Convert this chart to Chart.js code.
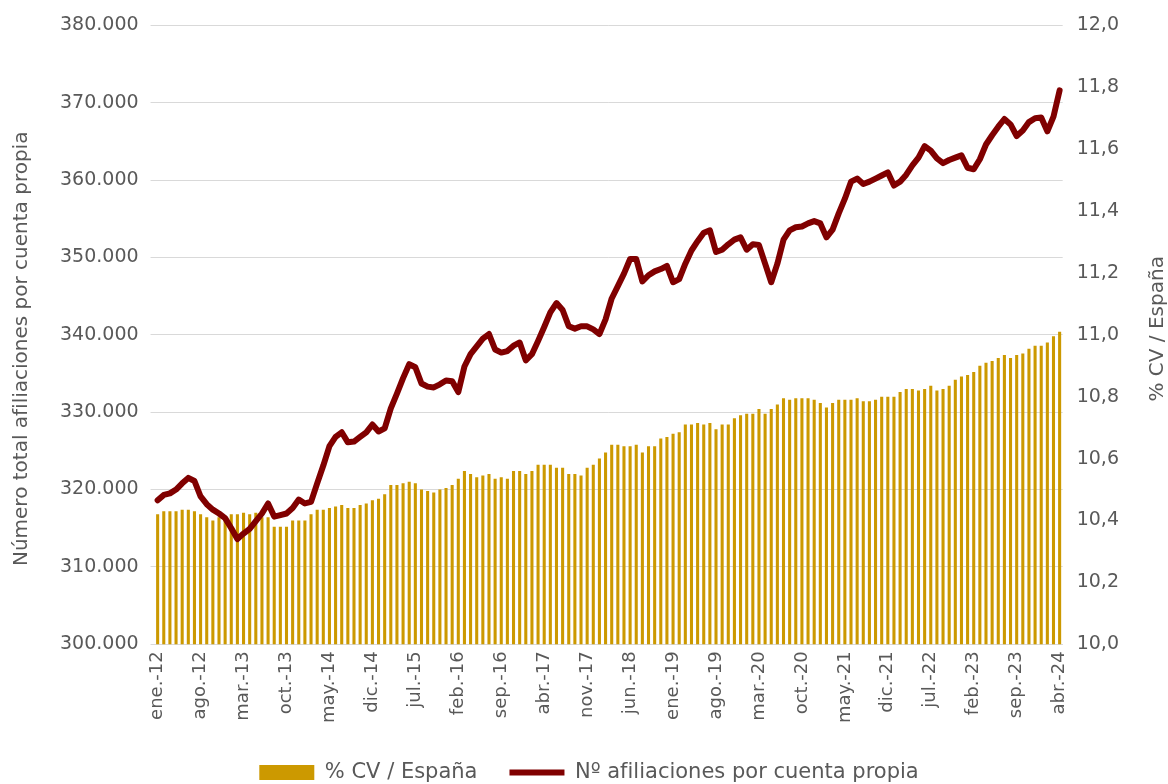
<!DOCTYPE html>
<html lang="es">
<head>
<meta charset="utf-8">
<title>Afiliaciones por cuenta propia</title>
<script src="https://cdn.jsdelivr.net/npm/chart.js"></script>
<style>
  html, body { margin: 0; padding: 0; background: #fff; }
  #wrap { width: 1168px; height: 784px; }
</style>
</head>
<body>
<div id="wrap"><canvas id="chart" width="1168" height="784"></canvas></div>
<script>
// meses ene-2012 .. abr-2024
const nombresMes = ["ene.", "feb.", "mar.", "abr.", "may.", "jun.", "jul.", "ago.", "sep.", "oct.", "nov.", "dic."];
const meses = [];
for (let a = 2012; a <= 2024; a++) {
    for (let m = 0; m < 12; m++) {
        if (a === 2024 && m > 3) break;
        meses.push(nombresMes[m] + "-" + String(a).slice(2));
    }
}

// Nº afiliaciones por cuenta propia (eje izquierdo)
const afiliaciones = [
    318600, 319300, 319500, 320000, 320800, 321500, 321100, 319100, 318100, 317400,
    316900, 316300, 315000, 313600, 314300, 314900, 315900, 316900, 318200, 316500,
    316700, 316900, 317600, 318700, 318200, 318400, 320800, 323100, 325600, 326800,
    327400, 326100, 326200, 326800, 327400, 328400, 327500, 327900, 330500, 332400,
    334400, 336200, 335800, 333700, 333300, 333200, 333600, 334100, 334000, 332600,
    335900, 337500, 338500, 339500, 340100, 338100, 337700, 337900, 338600, 339000,
    336700, 337500, 339200, 341000, 342900, 344100, 343200, 341100, 340800, 341100,
    341100, 340700, 340100, 342000, 344700, 346300, 347900, 349800, 349800, 346900,
    347700, 348200, 348500, 348900, 346800, 347200, 349200, 350900, 352100, 353200,
    353500, 350700, 351000, 351700, 352300, 352600, 351000, 351700, 351600, 349200,
    346800, 349200, 352300, 353500, 353900, 354000, 354400, 354700, 354400, 352600,
    353600, 355700, 357600, 359800, 360200, 359500, 359800, 360200, 360600, 361000,
    359300, 359800, 360700, 361900, 362900, 364400, 363800, 362800, 362200, 362600,
    362900, 363200, 361600, 361400, 362700, 364600, 365800, 366900, 367900, 367200,
    365700, 366400, 367500, 368000, 368100, 366300, 368200, 371600
];

// % CV / España (eje derecho)
const cvEspana = [
    10.42, 10.43, 10.43, 10.43, 10.435, 10.435, 10.43, 10.42, 10.41, 10.40,
    10.41, 10.41, 10.42, 10.42, 10.425, 10.42, 10.425, 10.41, 10.41, 10.38,
    10.38, 10.38, 10.40, 10.40, 10.40, 10.42, 10.435, 10.435, 10.44, 10.445,
    10.45, 10.44, 10.44, 10.45, 10.455, 10.465, 10.47, 10.485, 10.515, 10.515,
    10.52, 10.525, 10.52, 10.50, 10.495, 10.49, 10.50, 10.505, 10.515, 10.535,
    10.56, 10.55, 10.54, 10.545, 10.55, 10.535, 10.54, 10.535, 10.56, 10.56,
    10.55, 10.56, 10.58, 10.58, 10.58, 10.57, 10.57, 10.55, 10.55, 10.545,
    10.57, 10.58, 10.60, 10.62, 10.645, 10.645, 10.64, 10.64, 10.645, 10.62,
    10.64, 10.64, 10.665, 10.67, 10.68, 10.685, 10.71, 10.71, 10.715, 10.71,
    10.715, 10.695, 10.71, 10.71, 10.73, 10.74, 10.745, 10.745, 10.76, 10.745,
    10.76, 10.775, 10.795, 10.79, 10.795, 10.795, 10.795, 10.79, 10.78, 10.765,
    10.78, 10.79, 10.79, 10.79, 10.795, 10.785, 10.785, 10.79, 10.80, 10.80,
    10.80, 10.815, 10.825, 10.825, 10.82, 10.825, 10.835, 10.82, 10.825, 10.835,
    10.855, 10.865, 10.87, 10.88, 10.90, 10.91, 10.915, 10.925, 10.935, 10.925,
    10.935, 10.94, 10.955, 10.965, 10.965, 10.975, 10.995, 11.01
];

const tituloIzq = "Número total afiliaciones por cuenta propia";
const tituloDer = "% CV / España";
const gris = "#595959";

Chart.defaults.font.family = "'DejaVu Sans', sans-serif";
Chart.defaults.color = gris;

function miles(v) {
    return String(Math.round(v)).replace(/\B(?=(\d{3})+(?!\d))/g, ".");
}

// los dos títulos de eje se leen de abajo arriba y van un poco por debajo del centro
function tituloVertical(ctx, texto, x, y) {
    ctx.save();
    ctx.translate(x, y);
    ctx.rotate(-Math.PI / 2);
    ctx.font = "20px 'DejaVu Sans'";
    ctx.fillStyle = gris;
    ctx.textAlign = "center";
    ctx.textBaseline = "middle";
    ctx.fillText(texto, 0, 0);
    ctx.restore();
}

const titulosEjes = {
    id: "titulosEjes",
    afterDraw(chart) {
        const { ctx, chartArea } = chart;
        const medio = (chartArea.top + chartArea.bottom) / 2;
        tituloVertical(ctx, tituloIzq, 22, medio + 14);
        tituloVertical(ctx, tituloDer, 1158, medio - 6);
    }
};

const ctx = document.getElementById("chart").getContext("2d");
new Chart(ctx, {
    type: "bar",
    data: {
        labels: meses,
        datasets: [{
            type: "bar",
            label: "% CV / España",
            data: cvEspana,
            yAxisID: "y1",
            backgroundColor: "#CC9900",
            borderWidth: 0,
            barPercentage: 0.5,
            categoryPercentage: 1,
            order: 1
        }, {
            type: "line",
            label: "Nº afiliaciones por cuenta propia",
            data: afiliaciones,
            yAxisID: "y",
            borderColor: "#800000",
            backgroundColor: "#800000",
            borderWidth: 6,
            borderJoinStyle: "round",
            borderCapStyle: "round",
            pointRadius: 0,
            tension: 0,
            order: 0
        }]
    },
    options: {
        responsive: false,
        animation: false,
        layout: { padding: { top: 24, left: 10, right: 0, bottom: -9 } },
        plugins: {
            tooltip: { enabled: false },
            legend: {
                position: "bottom",
                labels: {
                    font: { size: 21 },
                    color: gris,
                    usePointStyle: true,
                    pointStyleWidth: 55,
                    boxHeight: 15,
                    padding: 32,
                    sort: (a, b) => a.datasetIndex - b.datasetIndex,
                    generateLabels(chart) {
                        const items = Chart.defaults.plugins.legend.labels.generateLabels(chart);
                        items.forEach(it => {
                            it.pointStyle = chart.data.datasets[it.datasetIndex].type === "line" ? "line" : "rect";
                        });
                        return items;
                    }
                }
            }
        },
        scales: {
            x: {
                grid: { display: false, drawTicks: false },
                border: { color: "#d9d9d9" },
                ticks: {
                    autoSkip: false,
                    minRotation: 90,
                    maxRotation: 90,
                    padding: 7,
                    font: { size: 18 },
                    callback: function (value, index) {
                        return index % 7 === 0 ? this.getLabelForValue(value) : null;
                    }
                }
            },
            y: {
                position: "left",
                min: 300000,
                max: 380000,
                grid: { color: "#d9d9d9", tickLength: 4 },
                border: { display: false },
                ticks: {
                    stepSize: 10000,
                    padding: 12,
                    font: { size: 19 },
                    callback: v => miles(v)
                },
                // hueco para el título dibujado a mano
                afterFit: scale => { scale.width += 38; }
            },
            y1: {
                position: "right",
                min: 10,
                max: 12,
                grid: { display: false, drawTicks: false },
                border: { display: false },
                ticks: {
                    stepSize: 0.2,
                    padding: 14,
                    font: { size: 19 },
                    callback: v => v.toFixed(1).replace(".", ",")
                },
                afterFit: scale => { scale.width += 35; }
            }
        }
    },
    plugins: [titulosEjes]
});
</script>
</body>
</html>
